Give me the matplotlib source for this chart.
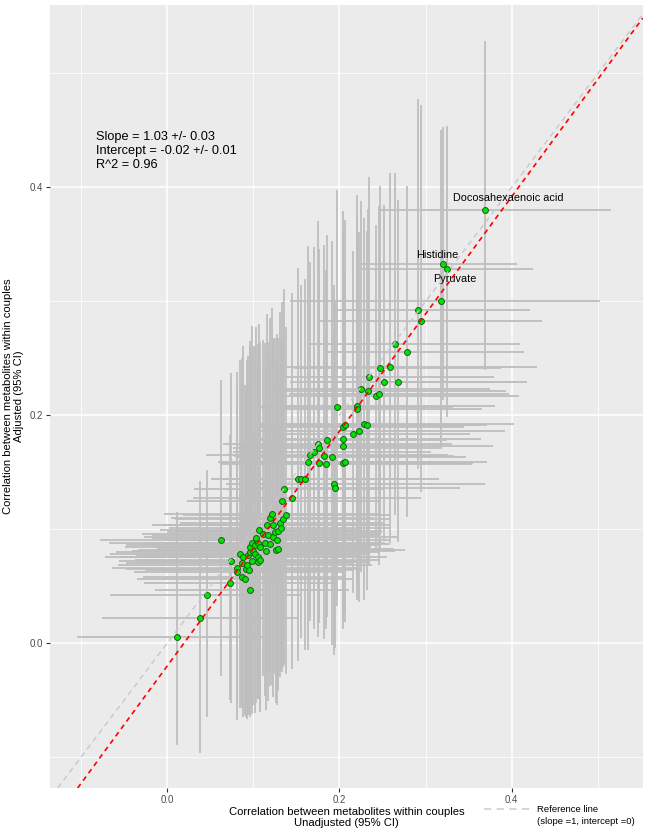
#!/usr/bin/env python3
"""
Scatter of adjusted vs unadjusted within-couple metabolite correlations,
with 95% CI error bars, fitted line and y = x reference line.
"""
import matplotlib
matplotlib.use("Agg")
import matplotlib.pyplot as plt
from matplotlib.lines import Line2D

plt.rcParams["font.family"] = ["Liberation Sans", "DejaVu Sans"]

# unadjusted correlation (x) and adjusted correlation (y)
unadj = [0.0118, 0.0377, 0.0458, 0.0620, 0.0732, 0.0736, 0.0813, 0.0813, 0.0840, 0.0871,
         0.0871, 0.0878, 0.0902, 0.0917, 0.0925, 0.0937, 0.0948, 0.0956, 0.0964, 0.0964,
         0.0979, 0.0987, 0.0995, 0.1014, 0.1018, 0.1029, 0.1049, 0.1056, 0.1056, 0.1064,
         0.1072, 0.1080, 0.1111, 0.1133, 0.1149, 0.1157, 0.1173, 0.1188, 0.1196, 0.1211,
         0.1226, 0.1234, 0.1246, 0.1265, 0.1273, 0.1284, 0.1288, 0.1304, 0.1319, 0.1327,
         0.1342, 0.1358, 0.1381, 0.1451, 0.1524, 0.1550, 0.1605, 0.1636, 0.1655, 0.1709,
         0.1752, 0.1767, 0.1767, 0.1825, 0.1840, 0.1852, 0.1918, 0.1937, 0.1949, 0.1972,
         0.2037, 0.2037, 0.2041, 0.2045, 0.2060, 0.2065, 0.2161, 0.2200, 0.2207, 0.2223,
         0.2246, 0.2281, 0.2316, 0.2335, 0.2346, 0.2428, 0.2462, 0.2470, 0.2520, 0.2590,
         0.2640, 0.2682, 0.2787, 0.2914, 0.2945, 0.3177, 0.3204, 0.3250, 0.3694]
adj = [0.0053, 0.0220, 0.0421, 0.0910, 0.0529, 0.0725, 0.0664, 0.0629, 0.0781, 0.0704,
       0.0582, 0.0757, 0.0567, 0.0655, 0.0687, 0.0772, 0.0646, 0.0801, 0.0845, 0.0471,
       0.0883, 0.0719, 0.0807, 0.0787, 0.0860, 0.0924, 0.0711, 0.0880, 0.0757, 0.0997,
       0.0728, 0.0845, 0.0962, 0.0883, 0.0810, 0.1041, 0.0947, 0.0875, 0.1103, 0.1138,
       0.1041, 0.0932, 0.0976, 0.0822, 0.0910, 0.0831, 0.0982, 0.1055, 0.1011, 0.1246,
       0.1094, 0.1357, 0.1129, 0.1275, 0.1445, 0.1445, 0.1445, 0.1588, 0.1649, 0.1675,
       0.1752, 0.1711, 0.1579, 0.1640, 0.1576, 0.1781, 0.1632, 0.1395, 0.1362, 0.2073,
       0.1796, 0.1728, 0.1895, 0.1579, 0.1590, 0.1918, 0.1839, 0.2082, 0.2053, 0.1862,
       0.2228, 0.1927, 0.1915, 0.2213, 0.2339, 0.2173, 0.2190, 0.2412, 0.2295, 0.2427,
       0.2629, 0.2289, 0.2559, 0.2927, 0.2825, 0.3000, 0.3331, 0.3287, 0.3798]

# distances from each estimate to the lower / upper 95% CI bound
unadj_lo = [0.117, 0.113, 0.112, 0.140, 0.100, 0.130, 0.145, 0.120, 0.150, 0.135,
            0.115, 0.160, 0.125, 0.140, 0.150, 0.130, 0.120, 0.155, 0.145, 0.110,
            0.165, 0.130, 0.140, 0.125, 0.150, 0.120, 0.135, 0.130, 0.160, 0.115,
            0.145, 0.125, 0.140, 0.130, 0.155, 0.120, 0.135, 0.145, 0.115, 0.125,
            0.140, 0.150, 0.125, 0.160, 0.130, 0.140, 0.120, 0.115, 0.130, 0.110,
            0.125, 0.105, 0.120, 0.115, 0.100, 0.095, 0.110, 0.105, 0.120, 0.095,
            0.110, 0.100, 0.115, 0.105, 0.120, 0.095, 0.110, 0.125, 0.100, 0.095,
            0.110, 0.120, 0.100, 0.105, 0.115, 0.100, 0.095, 0.110, 0.100, 0.115,
            0.105, 0.120, 0.095, 0.110, 0.100, 0.115, 0.105, 0.100, 0.110, 0.120,
            0.100, 0.105, 0.095, 0.100, 0.120, 0.175, 0.097, 0.100, 0.123]
unadj_hi = [0.120, 0.115, 0.110, 0.140, 0.120, 0.135, 0.140, 0.125, 0.145, 0.130,
            0.120, 0.150, 0.125, 0.135, 0.145, 0.130, 0.120, 0.150, 0.140, 0.115,
            0.155, 0.125, 0.135, 0.130, 0.145, 0.120, 0.130, 0.135, 0.150, 0.120,
            0.140, 0.125, 0.135, 0.130, 0.150, 0.125, 0.130, 0.140, 0.120, 0.125,
            0.135, 0.145, 0.125, 0.150, 0.130, 0.135, 0.120, 0.120, 0.125, 0.115,
            0.125, 0.115, 0.120, 0.150, 0.140, 0.130, 0.155, 0.145, 0.160, 0.135,
            0.155, 0.140, 0.165, 0.150, 0.170, 0.140, 0.155, 0.175, 0.145, 0.135,
            0.160, 0.175, 0.140, 0.150, 0.165, 0.145, 0.135, 0.160, 0.145, 0.170,
            0.150, 0.175, 0.140, 0.160, 0.145, 0.165, 0.150, 0.140, 0.155, 0.170,
            0.145, 0.150, 0.135, 0.130, 0.140, 0.185, 0.086, 0.100, 0.146]
adj_lo = [0.095, 0.118, 0.107, 0.120, 0.103, 0.125, 0.120, 0.130, 0.135, 0.125,
          0.115, 0.140, 0.120, 0.130, 0.135, 0.140, 0.125, 0.145, 0.130, 0.110,
          0.150, 0.125, 0.135, 0.140, 0.130, 0.145, 0.120, 0.135, 0.125, 0.140,
          0.130, 0.145, 0.125, 0.135, 0.140, 0.130, 0.145, 0.125, 0.135, 0.150,
          0.130, 0.140, 0.125, 0.135, 0.145, 0.120, 0.140, 0.135, 0.125, 0.150,
          0.130, 0.155, 0.140, 0.150, 0.160, 0.140, 0.150, 0.165, 0.145, 0.155,
          0.170, 0.150, 0.140, 0.160, 0.145, 0.155, 0.165, 0.150, 0.140, 0.175,
          0.160, 0.150, 0.170, 0.145, 0.140, 0.165, 0.140, 0.170, 0.155, 0.150,
          0.160, 0.155, 0.145, 0.150, 0.165, 0.135, 0.150, 0.160, 0.140, 0.155,
          0.150, 0.140, 0.145, 0.140, 0.150, 0.130, 0.120, 0.130, 0.140]
adj_hi = [0.110, 0.120, 0.110, 0.140, 0.130, 0.165, 0.160, 0.175, 0.170, 0.180,
          0.165, 0.185, 0.170, 0.160, 0.180, 0.175, 0.165, 0.185, 0.175, 0.150,
          0.190, 0.170, 0.180, 0.165, 0.175, 0.185, 0.160, 0.175, 0.170, 0.180,
          0.165, 0.180, 0.170, 0.175, 0.160, 0.185, 0.170, 0.165, 0.175, 0.180,
          0.160, 0.175, 0.170, 0.165, 0.180, 0.160, 0.170, 0.185, 0.165, 0.175,
          0.160, 0.175, 0.165, 0.180, 0.185, 0.170, 0.175, 0.190, 0.170, 0.180,
          0.195, 0.175, 0.165, 0.185, 0.170, 0.180, 0.190, 0.175, 0.165, 0.190,
          0.180, 0.170, 0.190, 0.175, 0.165, 0.180, 0.160, 0.185, 0.170, 0.175,
          0.165, 0.180, 0.170, 0.160, 0.175, 0.150, 0.165, 0.160, 0.155, 0.170,
          0.150, 0.160, 0.145, 0.185, 0.190, 0.150, 0.120, 0.125, 0.149]

label_pos = {"Docosahexaenoic acid": (0.396, 0.391),
             "Histidine": (0.313, 0.341),
             "Pyruvate": (0.334, 0.320)}

FIT_SLOPE = 1.03
FIT_INTERCEPT = -0.02
fit_text = "Slope = 1.03 +/- 0.03\nIntercept = -0.02 +/- 0.01\nR^2 = 0.96"

fig = plt.figure(figsize=(6.46, 8.35), dpi=100)
ax = fig.add_axes([0.0774, 0.0563, 0.9176, 0.9377])
ax.set_facecolor("#EBEBEB")
for s in ax.spines.values():
    s.set_visible(False)

ax.set_xlim(-0.136, 0.552)
ax.set_ylim(-0.127, 0.560)
ax.set_xticks([0.0, 0.2, 0.4])
ax.set_yticks([0.0, 0.2, 0.4])
ax.set_xticks([-0.1, 0.1, 0.3, 0.5], minor=True)
ax.set_yticks([-0.1, 0.1, 0.3, 0.5], minor=True)
ax.xaxis.set_major_formatter(matplotlib.ticker.FormatStrFormatter("%.1f"))
ax.yaxis.set_major_formatter(matplotlib.ticker.FormatStrFormatter("%.1f"))
ax.grid(which="major", color="white", linewidth=1.1)
ax.grid(which="minor", color="white", linewidth=0.55)
ax.set_axisbelow(True)
ax.tick_params(which="major", length=2.8, width=0.8, color="#333333",
               labelcolor="#4D4D4D", labelsize=7, pad=2)
ax.tick_params(which="minor", length=0)

ax.errorbar(unadj, adj, xerr=[unadj_lo, unadj_hi], yerr=[adj_lo, adj_hi], fmt="none",
            ecolor="#BEBEBE", elinewidth=1.3, capsize=0, zorder=2)
ax.scatter(unadj, adj, s=18, c="#00E600", edgecolors="#1A5A1A",
           linewidths=0.7, zorder=3)

ax.axline((0, 0), slope=1, color="#C8C8C8", linestyle=(0, (4, 3)),
          linewidth=1.0, zorder=4)
ax.axline((0, FIT_INTERCEPT), slope=FIT_SLOPE, color="#FF0000",
          linestyle=(0, (3, 2.5)), linewidth=1.2, zorder=4)

for name, (tx, ty) in label_pos.items():
    ax.text(tx, ty, name, ha="center", va="center", fontsize=7.8, color="black", zorder=5)

ax.text(-0.083, 0.4495, fit_text, ha="left", va="top", fontsize=9.2,
        linespacing=1.22, color="black")

ax.set_xlabel("Correlation between metabolites within couples\nUnadjusted (95% CI)",
              fontsize=8.1, labelpad=1.5, linespacing=1.15)
ax.set_ylabel("Correlation between metabolites within couples\nAdjusted (95% CI)",
              fontsize=8.1, labelpad=4, linespacing=1.15)

# legend for the reference line, drawn beside the x title
fig.add_artist(Line2D([484 / 646, 530 / 646], [1 - 809 / 835, 1 - 809 / 835],
                      color="#D3D3D3", linestyle=(0, (4, 3)), linewidth=1.3))
fig.text(537 / 646, 1 - 809 / 835, "Reference line", ha="left", va="center", fontsize=6.8)
fig.text(537 / 646, 1 - 821 / 835, "(slope =1, intercept =0)", ha="left", va="center",
         fontsize=6.8)

fig.savefig("out.png", dpi=100)
